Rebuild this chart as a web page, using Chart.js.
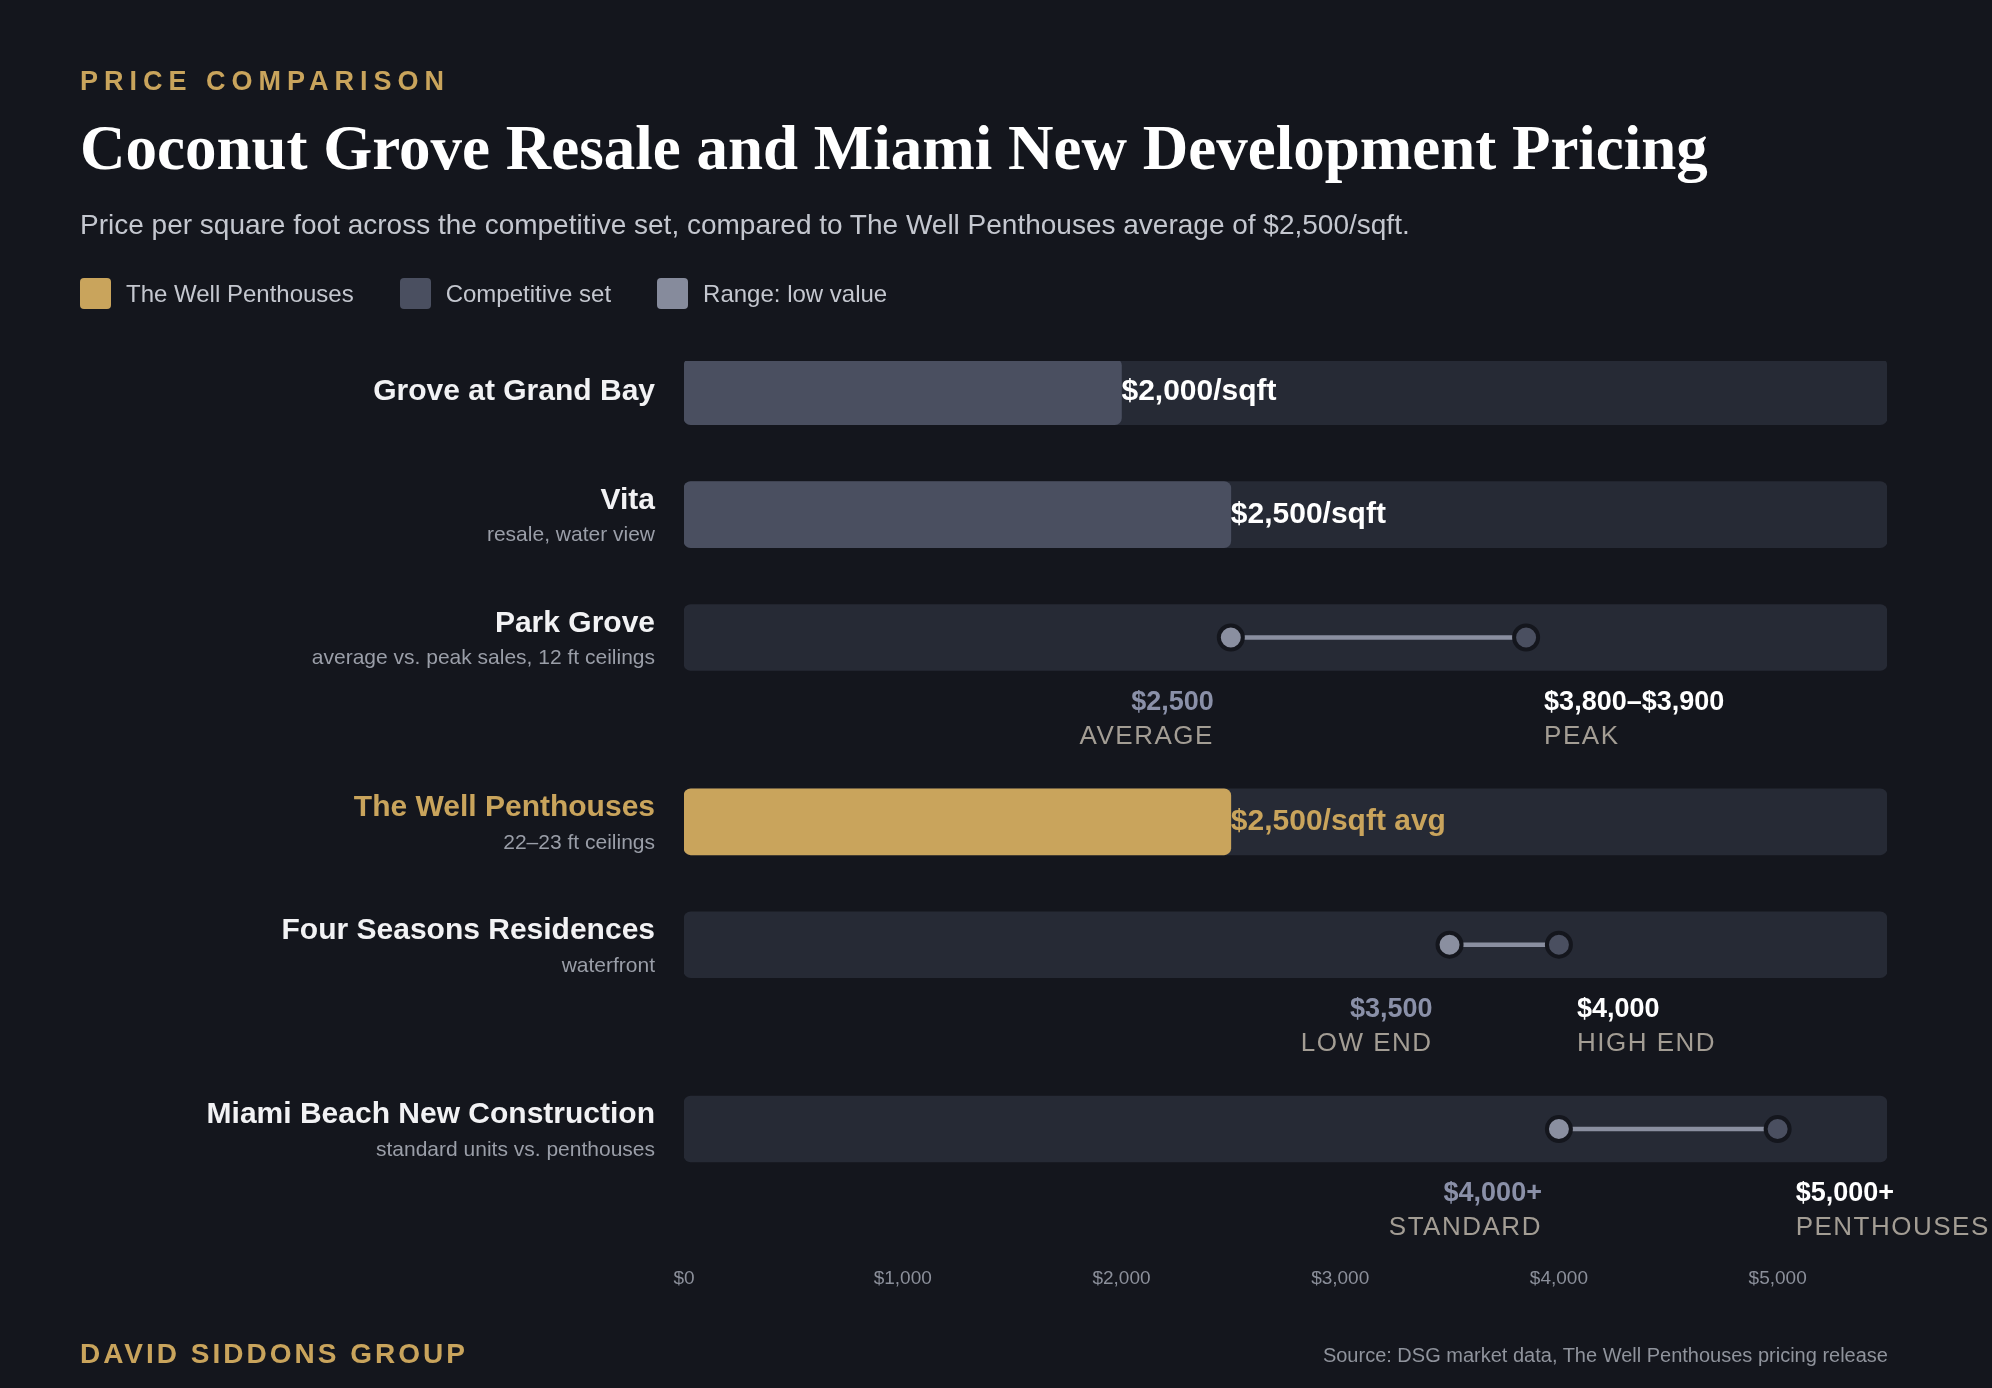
<!DOCTYPE html>
<html><head><meta charset="utf-8">
<script src="https://cdn.jsdelivr.net/npm/chart.js@4"></script>
<style>
html,body{margin:0;padding:0;background:#14161d;width:1992px;height:1388px;overflow:hidden;font-family:"Liberation Sans",Arial,sans-serif;}
#c{position:absolute;left:0;top:0;}
.t{position:absolute;white-space:nowrap;}
#kick{left:80px;top:66px;font-size:27px;font-weight:bold;letter-spacing:6px;color:#c9a45c;}
#title{left:80px;top:112px;font-family:"Liberation Serif",serif;font-weight:bold;font-size:63px;color:#fff;}
#sub{left:80px;top:209px;font-size:28px;color:#c4c7cf;}
#legend{left:80px;top:278px;font-size:24px;color:#c4c7cf;display:flex;gap:46px;}
#legend span{display:flex;align-items:center;}
#legend i{display:inline-block;width:31px;height:31px;border-radius:4px;margin-right:15px;}
#foot{left:80px;top:1338px;font-size:28px;font-weight:bold;letter-spacing:3px;color:#c9a45c;}
#src{right:104px;top:1344px;font-size:20px;color:#8f939c;}
</style></head><body>
<canvas id="c" width="1992" height="1388"></canvas>
<div class="t" id="kick">PRICE COMPARISON</div>
<div class="t" id="title">Coconut Grove Resale and Miami New Development Pricing</div>
<div class="t" id="sub">Price per square foot across the competitive set, compared to The Well Penthouses average of $2,500/sqft.</div>
<div class="t" id="legend"><span><i style="background:#c9a45c"></i>The Well Penthouses</span><span><i style="background:#4a4f60"></i>Competitive set</span><span><i style="background:#868b9c"></i>Range: low value</span></div>
<div class="t" id="foot">DAVID SIDDONS GROUP</div>
<div class="t" id="src">Source: DSG market data, The Well Penthouses pricing release</div>
<script>
const rows = ['Grove at Grand Bay','Vita','Park Grove','The Well Penthouses','Four Seasons Residences','Miami Beach New Construction'];
const subs = ['','resale, water view','average vs. peak sales, 12 ft ceilings','22–23 ft ceilings','waterfront','standard units vs. penthouses'];
const barValues = [2000,2500,null,2500,null,null];
const barLabels = ['$2,000/sqft','$2,500/sqft',null,'$2,500/sqft avg',null,null];
const highlight = [false,false,false,true,false,false];
const rangeLow = [null,null,2500,null,3500,4000];
const rangeHigh = [null,null,3850,null,4000,5000];
const lowLabels = [null,null,'$2,500',null,'$3,500','$4,000+'];
const lowCaps = [null,null,'AVERAGE',null,'LOW END','STANDARD'];
const highLabels = [null,null,'$3,800–$3,900',null,'$4,000','$5,000+'];
const highCaps = [null,null,'PEAK',null,'HIGH END','PENTHOUSES'];
const xTicks = [0,1000,2000,3000,4000,5000];
const xMax = 5500;
const rowSlots = [0,2,4,7,9,12];
const slotCount = 14;

const cats = Array.from({length:slotCount},(_,i)=>'s'+i);
const slotOf = v => { const a = Array(slotCount).fill(null); rowSlots.forEach((s,i)=>a[s]=v[i]); return a; };
const track = slotOf(rows.map(()=>xMax));
const bars = slotOf(barValues);
const barCols = slotOf(highlight.map(h=>h?'#c9a45c':'#4a4f60'));
const ranges = slotOf(rangeLow.map((l,i)=>l==null?null:[l,rangeHigh[i]]));

const txt = {
  id:'txt',
  afterDatasetsDraw(ch){
    const c=ch.ctx, x=ch.scales.x, y=ch.scales.y;
    c.save();
    rows.forEach((r,i)=>{
      const yc=y.getPixelForValue(rowSlots[i]);
      c.textAlign='right';c.textBaseline='middle';
      c.font='bold 30px "Liberation Sans"';
      c.fillStyle=highlight[i]?'#c9a45c':'#f2f2f4';
      c.fillText(r,655,subs[i]?yc-14:yc);
      if(subs[i]){c.font='21px "Liberation Sans"';c.fillStyle='#9a9ea8';c.fillText(subs[i],655,yc+21);}
      if(barValues[i]!=null){
        c.textAlign='left';c.font='bold 30px "Liberation Sans"';
        c.fillStyle=highlight[i]?'#c9a45c':'#ffffff';
        c.fillText(barLabels[i],x.getPixelForValue(barValues[i]),yc);
      }
      if(rangeLow[i]!=null){
        const xl=x.getPixelForValue(rangeLow[i]), xh=x.getPixelForValue(rangeHigh[i]);
        [[xl,'#8a8fa0'],[xh,'#4a4f60']].forEach(([px,col])=>{
          c.beginPath();c.arc(px,yc,12,0,Math.PI*2);c.fillStyle=col;c.fill();
          c.lineWidth=4;c.strokeStyle='#14161d';c.stroke();
        });
        c.letterSpacing='0px';
        c.font='bold 27px "Liberation Sans"';
        c.textAlign='right';c.fillStyle='#8a90a8';c.fillText(lowLabels[i],xl-17,yc+65);
        c.textAlign='left';c.fillStyle='#ffffff';c.fillText(highLabels[i],xh+18,yc+65);
        c.font='26px "Liberation Sans"';c.fillStyle='#a39d94';c.letterSpacing='1.5px';
        c.textAlign='right';c.fillText(lowCaps[i],xl-17,yc+99);
        c.textAlign='left';c.fillText(highCaps[i],xh+18,yc+99);
        c.letterSpacing='0px';
      }
    });
    c.restore();
  }
};

new Chart(document.getElementById('c'),{
  type:'bar',
  data:{labels:cats,datasets:[
    {data:track,backgroundColor:'#262a35',barThickness:66,borderRadius:7,borderSkipped:false,grouped:false,order:3},
    {data:bars,backgroundColor:barCols,barThickness:66,borderRadius:7,borderSkipped:false,grouped:false,order:2},
    {data:ranges,backgroundColor:'#8a8fa0',barThickness:4,borderSkipped:false,grouped:false,order:1}
  ]},
  options:{
    indexAxis:'y',responsive:false,animation:false,devicePixelRatio:1,
    layout:{padding:{left:684,right:105,top:361,bottom:60}},
    plugins:{legend:{display:false},tooltip:{enabled:false}},
    scales:{
      y:{display:false},
      x:{min:0,max:xMax,grid:{display:false},border:{display:false},
        afterBuildTicks(s){s.ticks=xTicks.map(v=>({value:v}));},
        ticks:{color:'#8b8f9a',font:{family:'Liberation Sans',size:19},padding:38,maxRotation:0,
          callback:v=>'$'+v.toLocaleString('en-US')}}
    }
  },
  plugins:[txt]
});
</script></body></html>
